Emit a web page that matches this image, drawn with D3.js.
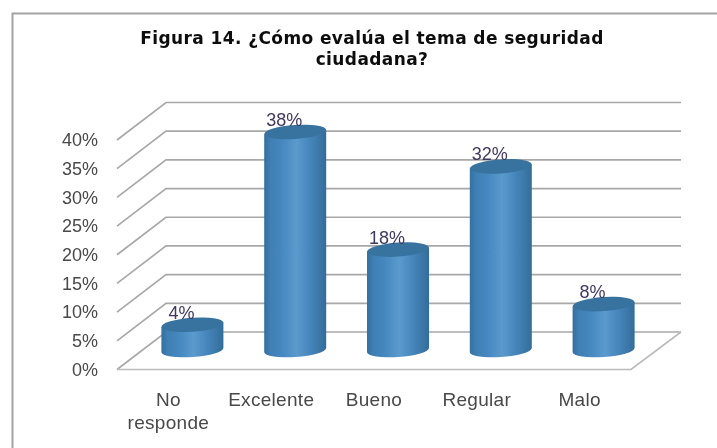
<!DOCTYPE html>
<html><head><meta charset="utf-8">
<script src="https://cdn.jsdelivr.net/npm/d3@7"></script>
<style>html,body{margin:0;padding:0;background:#fff}svg{display:block}</style>
</head><body><div id="c"></div>
<script>
const categories=["No responde","Excelente","Bueno","Regular","Malo"];
const values=[4.4,38,17.5,32,8];
const valueLabels=["4%","38%","18%","32%","8%"];
const ticks=[0,5,10,15,20,25,30,35,40];
const titleLines=["Figura 14. ¿Cómo evalúa el tema de seguridad","ciudadana?"];

const W=717,H=448;
const svg=d3.select("#c").append("svg").attr("width",W).attr("height",H);
const defs=svg.append("defs");
const f=defs.append("filter").attr("id","soft").attr("x","-5%").attr("y","-5%").attr("width","110%").attr("height","110%");
f.append("feGaussianBlur").attr("stdDeviation",0.5);
const g=defs.append("linearGradient").attr("id","cyl").attr("x1","0").attr("x2","1").attr("y1","0").attr("y2","0");
[[0,"#34709f"],[.1,"#3f7fb4"],[.28,"#4587bf"],[.52,"#5b9acd"],[.72,"#4787bd"],[.9,"#3b76a6"],[1,"#326d9b"]]
 .forEach(s=>g.append("stop").attr("offset",s[0]).attr("stop-color",s[1]));

const root=svg.append("g").attr("filter","url(#soft)");
// frame
root.append("path").attr("d",`M12.5 ${H+5}V13.5H${W+5}`).attr("fill","none").attr("stroke","#a4a4a4").attr("stroke-width",2);

// title
root.append("g").selectAll("text").data(titleLines).join("text")
 .attr("x",372).attr("y",(d,i)=>44+i*21).attr("text-anchor","middle")
 .attr("font-family","DejaVu Sans").attr("font-weight","bold").attr("font-size",17).attr("letter-spacing",0.4).attr("fill","#111").text(d=>d);

// scales: front plane of the 3D box and depth offset to back wall
const y=d3.scaleLinear().domain([0,40]).range([369.5,140]);
const x=d3.scaleBand().domain(categories).range([117,631]);
const depthX=49,depthY=-37.5;

// gridlines
const grid=root.append("g").attr("fill","none").attr("stroke","#a8a8a8").attr("stroke-width",1.7);
grid.selectAll("path").data(ticks).join("path")
 .attr("d",t=>`M${x.range()[0]} ${y(t)}L${x.range()[0]+depthX} ${y(t)+depthY}H${x.range()[1]+depthX+1}`);
grid.append("path").attr("stroke","#bbb").attr("d",`M${x.range()[0]} ${y(0)}H${x.range()[1]}L${x.range()[1]+depthX+1} ${y(0)+depthY}`);

// y axis labels
const yAxis=d3.axisLeft(y).tickValues(ticks).tickFormat(d=>d+"%").tickSize(0).tickPadding(0);
const ya=root.append("g").attr("transform","translate(98,0)").call(yAxis);
ya.select(".domain").remove();
ya.selectAll("text").attr("font-family","Liberation Sans").attr("font-size",18).attr("fill","#484848");

// category labels
root.append("g").selectAll("text").data(categories).join("text")
 .attr("text-anchor","middle").attr("font-family","Liberation Sans").attr("font-size",19).attr("letter-spacing",0.3).attr("fill","#484848")
 .each(function(d){
   const words=d.split(" ");
   const cx=x(d)+x.bandwidth()/2;
   d3.select(this).selectAll("tspan").data(words).join("tspan")
    .attr("x",cx).attr("y",(w,i)=>406+i*23).text(w=>w);
 });

// cylinders
const rx=31,ry=7,tilt=-4;
const baseOffsetX=24, baseOffsetY=19.5;
const bars=root.append("g").selectAll("g").data(categories).join("g");
bars.each(function(c,i){
  const cx=x(c)+x.bandwidth()/2+baseOffsetX;
  const by=y(0)-baseOffsetY;
  const ty=y(values[i])-baseOffsetY;
  const s=d3.select(this);
  const dy=rx*Math.sin(tilt*Math.PI/180);
  s.append("path")
   .attr("d",`M${cx-rx} ${ty-dy}L${cx-rx} ${by-dy}A${rx} ${ry} ${tilt} 0 0 ${cx+rx} ${by+dy}L${cx+rx} ${ty+dy}Z`)
   .attr("fill","url(#cyl)");
  s.append("ellipse").attr("cx",cx).attr("cy",ty).attr("rx",rx).attr("ry",ry)
   .attr("transform",`rotate(${tilt} ${cx} ${ty})`).attr("fill","#38739f");
  s.append("text").attr("x",cx-11).attr("y",ty-6).attr("text-anchor","middle")
   .attr("font-family","Liberation Sans").attr("font-size",18).attr("fill","#40385f").text(valueLabels[i]);
});
</script></body></html>
